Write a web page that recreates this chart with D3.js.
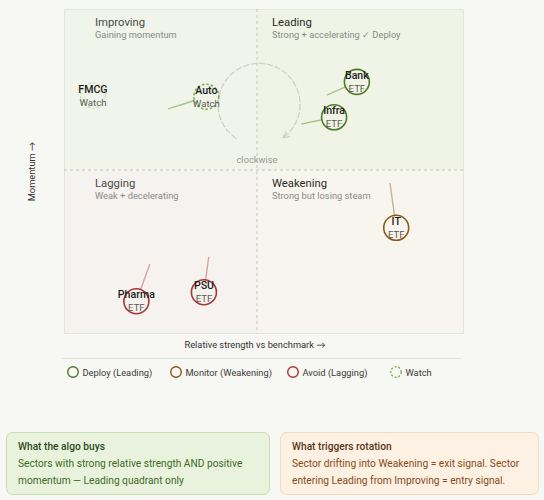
<!DOCTYPE html>
<html><head><meta charset="utf-8">
<script src="https://cdn.jsdelivr.net/npm/d3@7"></script>
<style>
html,body{margin:0;padding:0;background:#f7f7f4;}
svg{display:block;font-family:Roboto,"Noto Sans",sans-serif;}
tspan.arr{font-family:Lato,"DejaVu Sans",sans-serif;}
</style></head><body>
<svg id="c" width="544" height="500"></svg>
<script>
// ---- data ----
const sectors   = ["FMCG","Auto","Bank","Infra","IT","Pharma","PSU"];
const status    = ["faded","watch","deploy","deploy","monitor","avoid","avoid"];
const subLabels = ["Watch","Watch","ETF","ETF","ETF","ETF","ETF"];
const rsNow     = [96.6, 98.95, 101.93, 101.49, 102.69, 97.5, 98.9];
const momNow    = [1.85, 1.82, 2.19, 1.31, -1.41, -3.2, -2.98];
const rsPrev    = [null, 98.16, 101.35, 100.85, 102.57, 97.78, 99.0];
const momPrev   = [null, 1.52, 1.86, 1.14, -0.32, -2.29, -2.12];
const quadNames = ["Improving","Leading","Lagging","Weakening"];
const quadSubs  = ["Gaining momentum","Strong + accelerating \u2713 Deploy","Weak + decelerating","Strong but losing steam"];
const legendLabels = ["Deploy (Leading)","Monitor (Weakening)","Avoid (Lagging)","Watch"];
const legendKeys   = ["deploy","monitor","avoid","watch"];
const xTitle = "Relative strength vs benchmark";
const yTitle = "Momentum";
const arrow = "\u2192";
const cardTitles = ["What the algo buys","What triggers rotation"];
const cardLines  = [["Sectors with strong relative strength AND positive","momentum \u2014 Leading quadrant only"],
                    ["Sector drifting into Weakening = exit signal. Sector","entering Leading from Improving = entry signal."]];

// ---- styles ----
const stroke = {deploy:"#4d7a2a", monitor:"#8a5a1c", avoid:"#a93535", watch:"#7eae4e", faded:"#c9ddb0"};
const trailC = {deploy:"#a8c28a", monitor:"#c9b293", avoid:"#d6a3a3", watch:"#a8c28a", faded:"#a8c28a"};

const svg = d3.select("#c");
const x = d3.scaleLinear().domain([96,100,104]).range([64,257,464]);
const y = d3.scaleLinear().domain([-4,0,4]).range([334,170,9]);

const X0=x(96), X1=x(100), X2=x(104), Y0=y(4), Y1=y(0), Y2=y(-4);
const quads = [
  {x:X0,y:Y0,w:X1-X0,h:Y1-Y0,fill:"#f1f4ea"},
  {x:X1,y:Y0,w:X2-X1,h:Y1-Y0,fill:"#f0f4e7"},
  {x:X0,y:Y1,w:X1-X0,h:Y2-Y1,fill:"#f6f2ef"},
  {x:X1,y:Y1,w:X2-X1,h:Y2-Y1,fill:"#f8f5ee"}];
svg.selectAll("rect.q").data(quads).join("rect").attr("class","q")
  .attr("x",d=>d.x).attr("y",d=>d.y).attr("width",d=>d.w).attr("height",d=>d.h).attr("fill",d=>d.fill);
svg.append("rect").attr("x",X0+0.5).attr("y",Y0+0.5).attr("width",X2-X0-1).attr("height",Y2-Y0-1)
  .attr("fill","none").attr("stroke","#e3e6dc");
svg.append("line").attr("x1",X1).attr("x2",X1).attr("y1",Y0).attr("y2",Y2)
  .attr("stroke","#c5c5c0").attr("stroke-dasharray","3,3");
svg.append("line").attr("x1",X0).attr("x2",X2).attr("y1",Y1).attr("y2",Y1)
  .attr("stroke","#c5c5c0").attr("stroke-dasharray","3,3");

quads.forEach((q,i)=>{
  svg.append("text").attr("x",q.x+ (i%2===0?31:15)).attr("y",q.y+17).attr("font-size",11.3)
    .attr("fill",i%2===0?"#4a4a48":"#2a2a28").text(quadNames[i]);
  svg.append("text").attr("x",q.x+ (i%2===0?31:15)).attr("y",q.y+29).attr("font-size",9.3)
    .attr("fill","#8a8a86").text(quadSubs[i]);
});

// rotation arc
const cx = x(100.04), cy = y(1.63), r = 41;
const arcG = svg.append("g").attr("transform",`translate(${cx},${cy})`);
const a0 = -146*Math.PI/180, a1 = 144*Math.PI/180;
arcG.append("path").attr("d", d3.arc()({innerRadius:r,outerRadius:r,startAngle:a0,endAngle:a1}))
  .attr("fill","none").attr("stroke","#cfcfca").attr("stroke-width",1.2).attr("stroke-dasharray","4,4");
const ex = r*Math.sin(a1), ey = -r*Math.cos(a1);
const ang = Math.atan2(Math.sin(a1),Math.cos(a1));
const ah = 7;
arcG.append("path").attr("d",`M${ex-ah*Math.cos(ang-0.5)},${ey-ah*Math.sin(ang-0.5)} L${ex},${ey} L${ex-ah*Math.cos(ang+0.5)},${ey-ah*Math.sin(ang+0.5)}`)
  .attr("fill","none").attr("stroke","#cfcfca").attr("stroke-width",1.2);
svg.append("text").attr("x",X1).attr("y",Y1-7).attr("text-anchor","middle").attr("font-size",9.3)
  .attr("fill","#9a9a96").text("clockwise");

// trails & points
const R = 12.5;
const pts = sectors.map((s,i)=>({name:s,st:status[i],sub:subLabels[i],
  px:x(rsNow[i]),py:y(momNow[i]),
  qx:rsPrev[i]==null?null:x(rsPrev[i]),qy:momPrev[i]==null?null:y(momPrev[i])}));
pts.filter(d=>d.qx!=null).forEach(d=>{
  const dx=d.px-d.qx, dy=d.py-d.qy, L=Math.hypot(dx,dy);
  svg.append("line").attr("x1",d.qx).attr("y1",d.qy)
    .attr("x2",d.px-dx/L*R).attr("y2",d.py-dy/L*R)
    .attr("stroke",trailC[d.st]).attr("stroke-width",1.4);
});
const g = svg.selectAll("g.pt").data(pts).join("g").attr("class","pt")
  .attr("transform",d=>`translate(${d.px},${d.py})`);
g.append("circle").attr("r",R).attr("fill","none")
  .attr("stroke",d=>stroke[d.st]).attr("stroke-width",d=>d.st==="faded"?1.2:1.6)
  .attr("stroke-dasharray",d=>(d.st==="watch"||d.st==="faded")?"2.5,2":null);
g.append("text").attr("y",-3).attr("text-anchor","middle").attr("font-size",10.6).attr("font-weight",500)
  .attr("fill","#1c1c1a").text(d=>d.name);
g.append("text").attr("y",10).attr("text-anchor","middle").attr("font-size",9.6)
  .attr("fill","#5a5a56").text(d=>d.sub);

// axis titles
const xt = svg.append("text").attr("x",255).attr("y",348).attr("text-anchor","middle").attr("font-size",9.3)
  .attr("fill","#333").text(xTitle+" ");
xt.append("tspan").attr("class","arr").text(arrow);
const yt = svg.append("text").attr("transform",`translate(35,${(Y0+Y2)/2}) rotate(-90)`).attr("text-anchor","middle")
  .attr("font-size",9.3).attr("fill","#333").text(yTitle+" ");
yt.append("tspan").attr("class","arr").text(arrow);

// separator + legend
svg.append("line").attr("x1",62).attr("x2",461).attr("y1",358.5).attr("y2",358.5).attr("stroke","#e4e4df");
const legX = [73,176,293,396];
legendKeys.forEach((k,i)=>{
  svg.append("circle").attr("cx",legX[i]).attr("cy",372).attr("r",5.3).attr("fill","none")
    .attr("stroke",stroke[k]).attr("stroke-width",1.4).attr("stroke-dasharray",k==="watch"?"2,1.8":null);
  svg.append("text").attr("x",legX[i]+9.5).attr("y",375.5).attr("font-size",9.3).attr("fill","#3a3a38").text(legendLabels[i]);
});

// cards
const cards = [
  {x:6,w:263,fill:"#e9f2dd",stroke:"#c9dcb1",tc:"#2e4a1b",bc:"#3f6a22"},
  {x:280,w:258,fill:"#fcf1e2",stroke:"#f0dcc2",tc:"#5a3518",bc:"#8a4a18"}];
cards.forEach((c,i)=>{
  svg.append("rect").attr("x",c.x+0.5).attr("y",432.5).attr("width",c.w).attr("height",62).attr("rx",6)
    .attr("fill",c.fill).attr("stroke",c.stroke);
  svg.append("text").attr("x",c.x+12).attr("y",450).attr("font-size",10.2).attr("font-weight",500)
    .attr("fill",c.tc).text(cardTitles[i]);
  cardLines[i].forEach((l,j)=>svg.append("text").attr("x",c.x+12).attr("y",467+j*16.5)
    .attr("font-size",10.2).attr("fill",c.bc).text(l));
});
</script></body></html>
